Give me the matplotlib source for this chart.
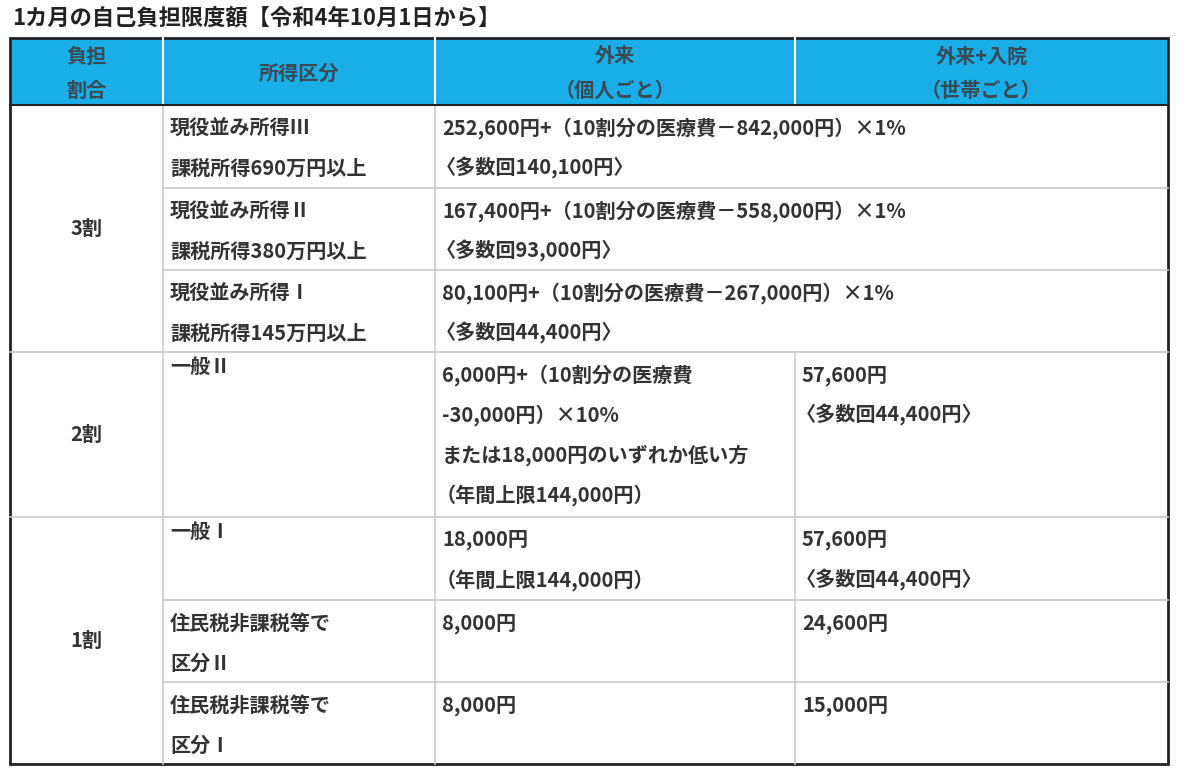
import matplotlib
matplotlib.use("Agg")
import matplotlib.pyplot as plt

plt.rcParams['font.family'] = ['Noto Sans CJK JP', 'DejaVu Sans']

title = "1カ月の自己負担限度額【令和4年10月1日から】"
headers = [["負担", "割合"], ["所得区分"], ["外来", "（個人ごと）"], ["外来+入院", "（世帯ごと）"]]
ratios = ["3割", "2割", "1割"]
ratio_spans = [(0, 3), (3, 4), (4, 7)]
income = [["現役並み所得Ⅲ", "課税所得690万円以上"],
          ["現役並み所得Ⅱ", "課税所得380万円以上"],
          ["現役並み所得Ⅰ", "課税所得145万円以上"],
          ["一般Ⅱ"],
          ["一般Ⅰ"],
          ["住民税非課税等で", "区分Ⅱ"],
          ["住民税非課税等で", "区分Ⅰ"]]
outpatient = [["252,600円+（10割分の医療費－842,000円）×1%", "〈多数回140,100円〉"],
              ["167,400円+（10割分の医療費－558,000円）×1%", "〈多数回93,000円〉"],
              ["80,100円+（10割分の医療費－267,000円）×1%", "〈多数回44,400円〉"],
              ["6,000円+（10割分の医療費", "-30,000円）×10%", "または18,000円のいずれか低い方", "（年間上限144,000円）"],
              ["18,000円", "（年間上限144,000円）"],
              ["8,000円"],
              ["8,000円"]]
household = [None, None, None,
             ["57,600円", "〈多数回44,400円〉"],
             ["57,600円", "〈多数回44,400円〉"],
             ["24,600円"],
             ["15,000円"]]

colx = [10, 163, 435, 795, 1168]
rowy = [38, 105, 188, 270, 352, 517, 600, 682, 764]

fig = plt.figure(figsize=(12, 7.68), dpi=100)
ax = fig.add_axes([0, 0, 1, 1])
ax.set_xlim(0, 1200)
ax.set_ylim(768, 0)
ax.axis('off')

txtc = '#333333'
gridc = '#c8c8c8'
fs = 14.5

ax.text(12, 18, title, fontsize=16, weight='bold', color='#222222', va='center', ha='left')

ax.add_patch(plt.Rectangle((colx[0], rowy[0]), colx[-1]-colx[0], rowy[1]-rowy[0], color='#1aaee8', lw=0))
for x in colx[1:-1]:
    ax.plot([x, x], [rowy[0], rowy[1]], color='white', lw=1.5)
hc = '#3a4a55'
for i, h in enumerate(headers):
    cx = (colx[i] + colx[i+1]) / 2
    if len(h) == 1:
        ax.text(cx, 73, h[0], fontsize=fs, weight='bold', color=hc, ha='center', va='center')
    else:
        ax.text(cx, 56, h[0], fontsize=fs, weight='bold', color=hc, ha='center', va='center')
        ax.text(cx, 90, h[1], fontsize=fs, weight='bold', color=hc, ha='center', va='center')

# vertical grid lines (col 3/4 merged for 3割 rows)
ax.plot([colx[1], colx[1]], [rowy[1], rowy[-1]], color=gridc, lw=1.2)
ax.plot([colx[2], colx[2]], [rowy[1], rowy[-1]], color=gridc, lw=1.2)
ax.plot([colx[3], colx[3]], [rowy[4], rowy[-1]], color=gridc, lw=1.2)
for r in range(2, 8):
    y = rowy[r]
    x0 = colx[1] if r in (2, 3, 6, 7) else colx[0]
    ax.plot([x0, colx[-1]], [y, y], color=gridc, lw=1.2)
ax.plot([colx[0], colx[-1]], [rowy[1], rowy[1]], color='#222222', lw=1.5)
ax.add_patch(plt.Rectangle((colx[0], rowy[0]), colx[-1]-colx[0], rowy[-1]-rowy[0], fill=False, ec='#222222', lw=2))

for lab, (a, b) in zip(ratios, ratio_spans):
    cy = (rowy[a+1] + rowy[b+1]) / 2
    ax.text((colx[0]+colx[1])/2, cy, lab, fontsize=fs, weight='bold', color=txtc, ha='center', va='center')

def put(x, top, lines):
    for k, s in enumerate(lines):
        xx = x - 6 if s.startswith('〈') or s.startswith('（') else x
        ax.text(xx, top + 23 + 40*k, s, fontsize=fs, weight='bold', color=txtc, ha='left', va='center')

for r in range(7):
    top = rowy[r+1]
    inc = income[r]
    if len(inc) == 1:
        ax.text(170, top + 14, inc[0], fontsize=fs, weight='bold', color=txtc, ha='left', va='center')
    else:
        put(170, top, inc)
    put(442, top, outpatient[r])
    if household[r] is not None:
        put(802, top, household[r])

fig.savefig('out.png', dpi=100, facecolor='white')
